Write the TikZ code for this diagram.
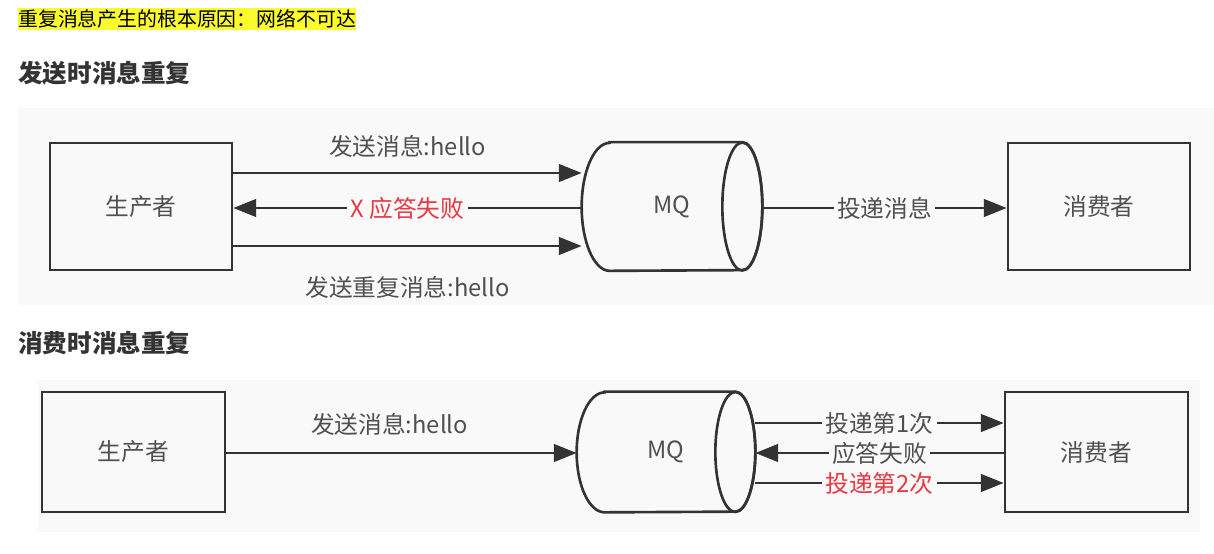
\documentclass[tikz,border=0pt]{standalone}
\usepackage{fontspec}
\setmainfont{Noto Sans CJK SC}
\usetikzlibrary{arrows.meta}

\definecolor{linec}{RGB}{51,51,51}
\definecolor{labelc}{RGB}{80,80,80}
\definecolor{failc}{RGB}{232,56,64}
\definecolor{markc}{RGB}{250,250,46}
\definecolor{bgc}{RGB}{249,249,249}

\tikzset{
  box/.style={draw=linec, line width=1.5pt, text=labelc, font=\fontsize{13.5}{16}\selectfont},
  drum/.style={draw=linec, line width=1.5pt},
  flow/.style={draw=linec, line width=1.5pt, -{Triangle[length=13pt, width=10pt]}},
  lbl/.style={text=labelc, font=\fontsize{13.5}{16}\selectfont, inner sep=1pt},
  onlbl/.style={lbl, fill=bgc, inner sep=2pt},
  head/.style={anchor=west, inner sep=0pt, text=linec, font=\fontsize{14}{17}\selectfont\bfseries},
}

% queue drawn as a lying cylinder round the node #1, #2 = half height
\newcommand{\drawdrum}[2]{%
  \draw[drum] ([xshift=0.56cm]#1.north west) -- ([xshift=-0.4cm]#1.north east)
    arc[start angle=90, end angle=-90, x radius=0.4cm, y radius=#2]
    -- ([xshift=0.56cm]#1.south west)
    arc[start angle=270, end angle=90, x radius=0.56cm, y radius=#2] -- cycle;
  \draw[drum] ([xshift=-0.4cm]#1.east) ellipse [x radius=0.4cm, y radius=#2];
}

\begin{document}
\begin{tikzpicture}[x=0.02cm, y=-0.02cm]
\useasboundingbox (0, 0) rectangle (1214, 554);
\fill[white] (0, 0) rectangle (1214, 554);
\fill[bgc] (18, 108) rectangle (1214, 305);
\fill[bgc] (38, 380) rectangle (1200, 532);

\node[fill=markc, anchor=west, inner xsep=0pt, inner ysep=1pt, font=\fontsize{11.3}{13}\selectfont] (cause) at (18, 19) {重复消息产生的根本原因：网络不可达};
\node[head] (h1) at (18, 73) {发送时消息重复};
\node[head] (h2) at (18, 343) {消费时消息重复};

% send side
\node[box, minimum width=3.64cm, minimum height=2.54cm] (prod1) at (141, 206.5) {生产者};
\node[lbl, minimum width=3.6cm, minimum height=2.56cm] (mq1) at (672, 206.5) {MQ};
\node[box, minimum width=3.64cm, minimum height=2.54cm] (cons1) at (1099, 206.5) {消费者};
\drawdrum{mq1}{1.28cm}

\draw[flow] ([yshift=0.67cm]prod1.east) to node[lbl, yshift=0.54cm] {发送消息:hello} ([yshift=0.67cm]mq1.west);
\draw[flow] ([yshift=-0.03cm]mq1.west) to node[onlbl, text=failc] {X 应答失败} ([yshift=-0.03cm]prod1.east);
\draw[flow] ([yshift=-0.79cm]prod1.east) to node[lbl, yshift=-0.82cm] {发送重复消息:hello} ([yshift=-0.79cm]mq1.west);
\draw[flow] ([yshift=-0.03cm]mq1.east) to node[onlbl] {投递消息} ([yshift=-0.03cm]cons1.west);

% consume side
\node[box, minimum width=3.66cm, minimum height=2.4cm] (prod2) at (133.5, 452) {生产者};
\node[lbl, minimum width=3.56cm, minimum height=2.4cm] (mq2) at (666, 452) {MQ};
\node[box, minimum width=3.66cm, minimum height=2.4cm] (cons2) at (1096.5, 452) {消费者};
\drawdrum{mq2}{1.2cm}

\draw[flow] ([yshift=-0.02cm]prod2.east) to node[lbl, yshift=0.58cm, xshift=-0.24cm] {发送消息:hello} ([yshift=-0.02cm]mq2.west);
\draw[flow] ([yshift=0.58cm]mq2.east) to node[onlbl] {投递第1次} ([yshift=0.58cm]cons2.west);
\draw[flow] ([yshift=-0.02cm]cons2.west) to node[onlbl] {应答失败} ([yshift=-0.02cm]mq2.east);
\draw[flow] ([yshift=-0.62cm]mq2.east) to node[onlbl, text=failc] {投递第2次} ([yshift=-0.62cm]cons2.west);

\end{tikzpicture}
\end{document}
